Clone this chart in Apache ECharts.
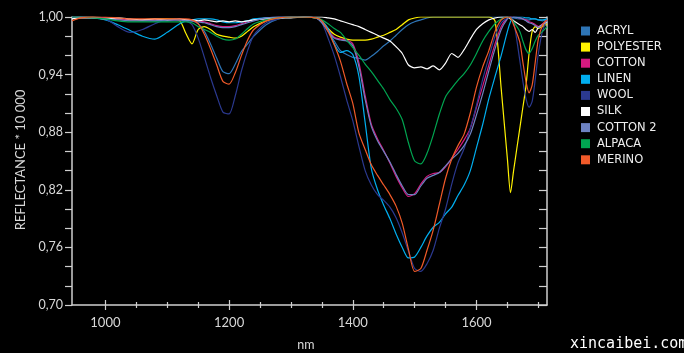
<!DOCTYPE html>
<html><head><meta charset="utf-8">
<script src="https://cdn.jsdelivr.net/npm/echarts@6/dist/echarts.min.js"></script>
<style>html,body{margin:0;padding:0;background:#fff;overflow:hidden}#c{width:684px;height:353px;background:#000}</style>
</head><body><div id="c"></div>
<script>
// wavelength grid (nm)
const wavelengths = [946,960,980,1000,1020,1040,1060,1080,1100,1120,
  1130,1140,1150,1160,1170,1180,1190,1200,1210,1220,
  1230,1240,1260,1280,1300,1320,1340,1350,1360,1370,
  1380,1390,1400,1410,1420,1430,1440,1450,1460,1470,
  1480,1490,1500,1510,1520,1530,1540,1550,1560,1570,
  1580,1590,1600,1610,1620,1630,1640,1650,1655,1660,
  1670,1675,1680,1685,1690,1695,1700,1707,1714];

const acryl = [0.999,1.000,1.000,0.999,0.998,0.997,0.997,0.996,0.996,0.997,
  0.997,0.996,0.993,0.985,0.972,0.957,0.943,0.941,0.951,0.964,
  0.972,0.980,0.992,0.998,1.000,1.000,0.999,0.996,0.986,0.975,
  0.965,0.961,0.958,0.957,0.955,0.959,0.964,0.970,0.975,0.981,
  0.987,0.992,0.995,0.997,0.999,1.000,1.000,1.000,1.000,1.000,
  1.000,1.000,1.000,1.000,1.000,1.000,1.000,1.000,1.000,0.999,
  0.998,0.998,0.997,0.997,0.998,0.998,0.997,0.996,0.998];

const polyester = [1.000,1.000,1.000,0.999,0.998,0.997,0.997,0.998,0.998,0.996,
  0.983,0.972,0.987,0.990,0.987,0.982,0.980,0.979,0.978,0.980,
  0.985,0.990,0.996,0.999,1.000,1.000,0.999,0.996,0.988,0.982,
  0.979,0.977,0.976,0.976,0.976,0.977,0.979,0.981,0.984,0.987,
  0.992,0.997,0.999,1.000,1.000,1.000,1.000,1.000,1.000,1.000,
  1.000,1.000,1.000,1.000,1.000,0.996,0.925,0.852,0.817,0.840,
  0.884,0.906,0.928,0.962,0.985,0.990,0.988,0.990,0.993];

const cotton = [0.999,1.000,1.000,0.999,0.998,0.997,0.997,0.997,0.997,0.997,
  0.997,0.997,0.996,0.995,0.993,0.991,0.990,0.990,0.991,0.993,
  0.995,0.997,0.999,1.000,1.000,1.000,0.999,0.995,0.987,0.979,
  0.977,0.976,0.972,0.952,0.918,0.888,0.873,0.861,0.848,0.834,
  0.822,0.813,0.816,0.826,0.834,0.837,0.838,0.844,0.853,0.862,
  0.872,0.884,0.906,0.928,0.950,0.972,0.990,0.999,1.000,1.000,
  0.999,0.998,0.997,0.995,0.994,0.992,0.990,0.993,0.997];

const linen = [1.000,1.000,0.999,0.997,0.992,0.986,0.980,0.977,0.984,0.993,
  0.996,0.997,0.998,0.998,0.998,0.997,0.995,0.994,0.994,0.995,
  0.996,0.998,0.999,1.000,1.000,1.000,0.999,0.996,0.988,0.972,
  0.963,0.965,0.961,0.938,0.890,0.842,0.820,0.804,0.790,0.774,
  0.760,0.749,0.750,0.760,0.772,0.781,0.786,0.795,0.802,0.814,
  0.825,0.840,0.864,0.888,0.915,0.938,0.960,0.985,0.995,1.000,
  1.000,1.000,0.999,0.999,0.998,0.998,0.997,0.997,0.998];

const wool = [1.000,1.000,0.999,0.998,0.990,0.984,0.987,0.993,0.997,0.997,
  0.996,0.992,0.978,0.958,0.937,0.918,0.901,0.899,0.918,0.944,
  0.965,0.981,0.994,0.998,1.000,1.000,0.999,0.994,0.978,0.960,
  0.938,0.914,0.892,0.865,0.840,0.825,0.815,0.809,0.802,0.791,
  0.775,0.756,0.738,0.735,0.743,0.757,0.780,0.800,0.826,0.848,
  0.863,0.884,0.908,0.935,0.958,0.980,0.994,0.999,1.000,0.996,
  0.955,0.933,0.915,0.906,0.912,0.935,0.962,0.986,0.997];

const silk = [0.998,0.999,0.999,0.998,0.999,0.998,0.997,0.998,0.997,0.998,
  0.997,0.997,0.996,0.997,0.996,0.995,0.996,0.995,0.996,0.995,
  0.996,0.997,0.998,0.999,0.999,1.000,1.000,1.000,0.999,0.998,
  0.996,0.994,0.992,0.990,0.987,0.984,0.981,0.978,0.975,0.969,
  0.962,0.950,0.947,0.948,0.946,0.949,0.945,0.952,0.962,0.958,
  0.966,0.977,0.987,0.993,0.997,0.999,1.000,1.000,0.998,0.996,
  0.992,0.990,0.987,0.985,0.987,0.984,0.989,0.992,0.995];

const cotton2 = [1.000,1.000,0.999,0.998,0.997,0.996,0.996,0.996,0.997,0.997,
  0.996,0.996,0.995,0.994,0.992,0.990,0.989,0.989,0.990,0.992,
  0.994,0.996,0.999,1.000,1.000,1.000,0.999,0.994,0.985,0.978,
  0.976,0.975,0.970,0.948,0.914,0.886,0.871,0.860,0.849,0.836,
  0.824,0.815,0.815,0.824,0.832,0.835,0.838,0.845,0.852,0.858,
  0.866,0.878,0.898,0.920,0.944,0.967,0.987,0.998,1.000,1.000,
  0.999,0.998,0.996,0.994,0.993,0.991,0.989,0.992,0.996];

const alpaca = [1.000,1.000,0.999,0.998,0.996,0.995,0.995,0.995,0.995,0.995,
  0.995,0.994,0.990,0.987,0.984,0.980,0.977,0.976,0.977,0.982,
  0.988,0.993,0.997,0.999,1.000,1.000,0.999,0.997,0.993,0.988,
  0.984,0.976,0.968,0.960,0.951,0.943,0.934,0.925,0.914,0.905,
  0.893,0.869,0.850,0.847,0.858,0.877,0.899,0.917,0.926,0.934,
  0.941,0.950,0.962,0.975,0.985,0.993,0.998,1.000,0.999,0.995,
  0.985,0.975,0.966,0.962,0.967,0.975,0.981,0.985,0.990];

const merino = [0.996,0.999,1.000,1.000,0.999,0.998,0.998,0.998,0.998,0.998,
  0.998,0.997,0.993,0.982,0.967,0.950,0.933,0.930,0.942,0.960,
  0.976,0.987,0.996,0.999,1.000,1.000,0.999,0.996,0.985,0.971,
  0.954,0.931,0.910,0.879,0.862,0.846,0.835,0.825,0.815,0.803,
  0.785,0.758,0.735,0.738,0.757,0.778,0.805,0.832,0.852,0.866,
  0.878,0.900,0.927,0.948,0.965,0.985,0.997,1.000,0.999,0.992,
  0.974,0.953,0.933,0.921,0.929,0.953,0.977,0.992,0.997];

const seriesNames = ['ACRYL','POLYESTER','COTTON','LINEN','WOOL','SILK','COTTON 2','ALPACA','MERINO'];
const seriesColors = ['#2e75b6','#fff200','#d4197f','#00aeef','#2b3990','#ffffff','#6d82c2','#00a651','#f15a29'];
const seriesValues = [acryl, polyester, cotton, linen, wool, silk, cotton2, alpaca, merino];

const xMajorTicks = [1000,1200,1400,1600];
const xTickLabels = ['1000','1200','1400','1600'];
const xMinorTicks = [1050,1100,1150,1250,1300,1350,1450,1500,1550,1650,1700];
const yMajorTicks = [0.70,0.76,0.82,0.88,0.94,1.00];
const yTickLabels = ['0,70','0,76','0,82','0,88','0,94','1,00'];

const AX = '#cfcfcf';
const X_MIN = 946, X_MAX = 1714;
const chart = echarts.init(document.getElementById('c'), null, {renderer:'canvas'});

function xAxisCfg(ticks, inside, len, main) {
  return {
    type:'value', min:X_MIN, max:X_MAX, position:'bottom',
    axisLine:{show:main, onZero:false, lineStyle:{color:AX, width:1.5}},
    axisTick:{show:true, customValues:ticks, inside:inside, length:len, lineStyle:{color:AX, width:1.2}},
    axisLabel: main ? {show:true, customValues:xMajorTicks, margin:11, color:'#d8d8d8',
      fontFamily:'Lato', fontSize:13,
      formatter:(v)=>{const i=xMajorTicks.findIndex(t=>Math.abs(t-v)<1e-6);return i>=0?xTickLabels[i]:'';}} : {show:false},
    splitLine:{show:false}
  };
}

chart.setOption({
  backgroundColor:'#000',
  animation:false,
  grid:{left:72, top:17, width:475, height:288, outerBoundsMode:'none'},
  legend:{
    data:seriesNames, orient:'vertical', left:581, top:25, padding:0,
    icon:'rect', itemWidth:9, itemHeight:9, itemGap:4.1,
    textStyle:{color:'#eeeeee', fontFamily:'DejaVu Sans', fontSize:11.5, padding:[0,0,0,2]},
    selectedMode:false
  },
  xAxis:[
    xAxisCfg(xMajorTicks,false,5,true),
    xAxisCfg(xMajorTicks,true,5,false),
    xAxisCfg(xMinorTicks,false,3,false),
    xAxisCfg(xMinorTicks,true,3,false)
  ],
  yAxis:[
    {type:'value', min:0.70, max:1.00, interval:0.02, position:'left',
     axisLine:{show:true, lineStyle:{color:AX, width:1.5}},
     axisTick:{show:true, inside:false, length:7, lineStyle:{color:AX, width:1.2}},
     axisLabel:{customValues:yMajorTicks, margin:9, color:'#d8d8d8', fontFamily:'Lato', fontSize:12.5,
       formatter:(v)=>{const i=yMajorTicks.findIndex(t=>Math.abs(t-v)<1e-6);return i>=0?yTickLabels[i]:'';}},
     splitLine:{show:false}},
    {type:'value', min:0.70, max:1.00, interval:0.02, position:'right',
     axisLine:{show:true, lineStyle:{color:AX, width:1.5}},
     axisTick:{show:true, inside:true, length:8, lineStyle:{color:AX, width:1.2}},
     axisLabel:{show:false}, splitLine:{show:false}}
  ],
  graphic:[
    {type:'text', x:21, y:160, rotation:Math.PI/2,
     style:{text:'REFLECTANCE * 10 000', fill:'#d8d8d8', font:'13px Lato', align:'center', verticalAlign:'middle'}},
    {type:'text', x:306, y:345,
     style:{text:'nm', fill:'#d8d8d8', font:'12.5px Lato', align:'center', verticalAlign:'middle'}},
    {type:'text', x:570, y:344,
     style:{text:'xincaibei.com', fill:'#ffffff', font:'15px "DejaVu Sans Mono"', align:'left', verticalAlign:'middle'}}
  ],
  series: seriesNames.map((n,i)=>({
    name:n, type:'line', xAxisIndex:0, yAxisIndex:0,
    data: wavelengths.map((w,j)=>[w, seriesValues[i][j]]),
    symbol:'none', showSymbol:false, smooth:0.25,
    lineStyle:{width:1.2, color:seriesColors[i]}, itemStyle:{color:seriesColors[i]},
    emphasis:{disabled:true}
  }))
});
</script></body></html>
